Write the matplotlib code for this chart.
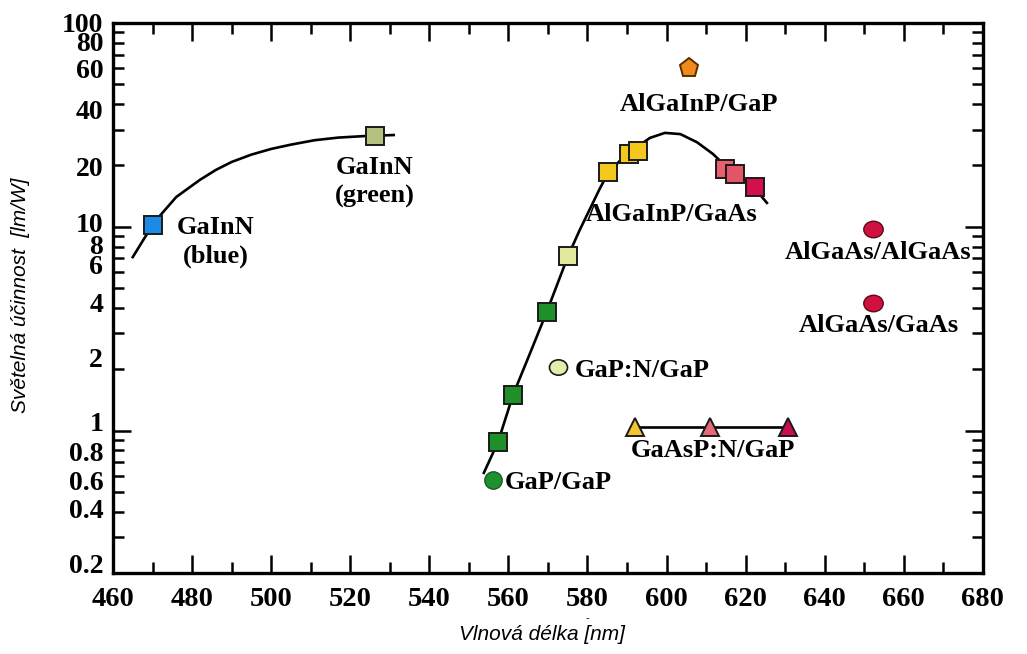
import numpy as np
import matplotlib
matplotlib.use("Agg")
import matplotlib.pyplot as plt
from matplotlib.path import Path
from matplotlib.ticker import FixedLocator, FuncFormatter, NullFormatter
from matplotlib.transforms import ScaledTranslation

# ---- data: wavelength [nm] and luminous efficacy [lm/W] ----
# GaInN fit curve and devices
gainn_curve_nm = [465, 470, 472, 476, 482, 486, 490, 495, 500, 505, 511, 517, 524, 531]
gainn_curve_eff = [7.1, 10.2, 11.4, 14.0, 17.0, 19.0, 20.8, 22.6, 24.1, 25.3,
                   26.6, 27.4, 27.9, 28.2]
gainn_nm = [470.1, 526.2]
gainn_eff = [10.2, 27.9]
gainn_colors = ["#1a8ce8", "#b5c27f"]

# AlGaInP/GaAs + GaP fit curve
algainp_curve_nm = [553.8, 557.4, 561.2, 565.5, 569.7, 575.1, 578, 580.6, 583.2,
                    585.2, 588, 590.5, 593, 595.8, 599.6, 603.5, 607.7, 611.7,
                    614.8, 618, 622.3, 625.4]
algainp_curve_eff = [0.62, 0.88, 1.50, 2.40, 3.82, 7.19, 9.6, 12.2, 15.5,
                     18.3, 20.9, 22.9, 25.0, 27.3, 28.9, 28.5, 26.0, 22.8,
                     20.0, 18.0, 15.4, 13.1]

# square devices along the curve
sq_nm = [557.4, 561.2, 569.7, 575.1, 585.2, 590.5, 592.8, 614.8, 617.3, 622.3]
sq_eff = [0.88, 1.50, 3.82, 7.19, 18.6, 22.8, 23.6, 19.2, 18.2, 15.7]
sq_colors = ["#1f8f2a", "#1f8f2a", "#1f8f2a", "#e0e89c", "#f4c81c", "#f4c81c",
             "#f4c81c", "#e8606e", "#e25566", "#d4104c"]

# single devices
gap_nm, gap_eff = 556.1, 0.572
gapn_nm, gapn_eff = 572.5, 2.05
algainp_gap_nm, algainp_gap_eff = 605.7, 60.0
algaas_nm = [652.2, 652.2]
algaas_eff = [9.76, 4.23]

# GaAsP:N/GaP
gaasp_nm = [592.0, 611.0, 630.7]
gaasp_eff = [1.04, 1.04, 1.04]
gaasp_colors = ["#f2c433", "#e86878", "#c8104a"]

# labels (text, wavelength, efficacy, horizontal alignment)
labels = [
    ("GaInN\n(blue)", 486.0, 8.45, "center"),
    ("GaInN\n(green)", 526.2, 16.6, "center"),
    ("AlGaInP/GaP", 608.3, 39.9, "center"),
    ("AlGaInP/GaAs", 601.4, 11.5, "center"),
    ("AlGaAs/AlGaAs", 653.4, 7.46, "center"),
    ("AlGaAs/GaAs", 653.7, 3.28, "center"),
    ("GaP:N/GaP", 576.7, 1.96, "left"),
    ("GaAsP:N/GaP", 611.7, 0.795, "center"),
    ("GaP/GaP", 559.1, 0.555, "left"),
]

x_major = [460, 480, 500, 520, 540, 560, 580, 600, 620, 640, 660, 680]
x_minor = [470, 490, 510, 530, 550, 570, 590, 610, 630, 650, 670]
y_major = [1, 10, 100]
y_minor = [0.2, 0.3, 0.4, 0.5, 0.6, 0.7, 0.8, 0.9,
           2, 3, 4, 5, 6, 7, 8, 9,
           20, 30, 40, 50, 60, 70, 80, 90]
y_labelled = [0.2, 0.4, 0.6, 0.8, 1, 2, 4, 6, 8, 10, 20, 40, 60, 80, 100]
# small vertical nudges (points) for the y tick labels
y_label_shift = [5, 0, -5.5, -3, 4, 6, 2, 3.5, -0.5, 1, -3, -6, -2.5, -1.5, -1.5]

# ---- drawing ----
serif = ["Liberation Serif", "DejaVu Serif"]
sans = ["Liberation Sans", "DejaVu Sans"]

fig = plt.figure(figsize=(10.27, 6.54), dpi=100)
ax = fig.add_axes([0.110, 0.1239, 0.847, 0.8409])
ax.set_yscale("log")
ax.set_xlim(460, 680)
ax.set_ylim(0.2, 100)

lw_curve = 1.9
ax.plot(gainn_curve_nm, gainn_curve_eff, color="black", lw=lw_curve, zorder=2,
        solid_joinstyle="round")
ax.plot(algainp_curve_nm, algainp_curve_eff, color="black", lw=lw_curve, zorder=2,
        solid_joinstyle="round")
ax.plot(gaasp_nm, gaasp_eff, color="black", lw=lw_curve, zorder=2)

edge = "#1a1a1a"
for x, y, c in zip(gainn_nm, gainn_eff, gainn_colors):
    ax.plot(x, y, marker="s", ms=13, mfc=c, mec=edge, mew=1.4, zorder=3)
for x, y, c in zip(sq_nm, sq_eff, sq_colors):
    ax.plot(x, y, marker="s", ms=13, mfc=c, mec=edge, mew=1.4, zorder=3)

ellipse = Path(Path.unit_circle().vertices * np.array([1.0, 0.85]),
               Path.unit_circle().codes)
ax.plot(gap_nm, gap_eff, marker="o", ms=12.5, mfc="#1f9030", mec="#145c1e",
        mew=1.0, zorder=3)
ax.plot(gapn_nm, gapn_eff, marker=ellipse, ms=13, mfc="#e4ecac", mec=edge,
        mew=1.2, zorder=3)
for x, y in zip(algaas_nm, algaas_eff):
    ax.plot(x, y, marker=ellipse, ms=14, mfc="#d0103e", mec="#5a0a18",
            mew=1.0, zorder=3)
ax.plot(algainp_gap_nm, algainp_gap_eff, marker="p", ms=14, mfc="#f08a1c",
        mec="#5a2c00", mew=1.4, zorder=3)
for x, y, c in zip(gaasp_nm, gaasp_eff, gaasp_colors):
    ax.plot(x, y, marker="^", ms=13, mfc=c, mec=edge, mew=1.4, zorder=3)

for txt, x, y, ha in labels:
    ax.text(x, y, txt, ha=ha, va="center", family=serif, weight="bold",
            fontsize=19, linespacing=1.3, zorder=4)

# axes frame and ticks
for sp in ax.spines.values():
    sp.set_linewidth(2.4)

ax.xaxis.set_major_locator(FixedLocator(x_major))
ax.xaxis.set_minor_locator(FixedLocator(x_minor))
ax.yaxis.set_major_locator(FixedLocator(y_major))
ax.yaxis.set_minor_locator(FixedLocator(y_minor))
ax.yaxis.set_major_formatter(NullFormatter())
ax.yaxis.set_minor_formatter(NullFormatter())
ax.xaxis.set_major_formatter(FuncFormatter(lambda v, p: f"{v:g}"))

ax.tick_params(which="both", direction="in", top=True, right=True, width=1.8)
ax.tick_params(which="major", length=13)
ax.tick_params(which="minor", length=8)
ax.tick_params(axis="x", which="both", pad=10)
for lbl in ax.get_xticklabels():
    lbl.set_family(serif)
    lbl.set_weight("bold")
    lbl.set_fontsize(20.5)

# y tick labels
ytrans = ax.get_yaxis_transform()
for v, dy in zip(y_labelled, y_label_shift):
    tr = ytrans + ScaledTranslation(-7 / 72, dy / 72, fig.dpi_scale_trans)
    ax.text(0, v, f"{v:g}", transform=tr, ha="right", va="center",
            family=serif, weight="bold", fontsize=20, clip_on=False)

fig.text(0.020, 0.549, "Světelná účinnost  [lm/W]", rotation=90, ha="center",
         va="center", family=sans, style="italic", fontsize=15)
fig.text(0.528, 0.030, "Vlnová délka [nm]", ha="center", va="center",
         family=sans, style="italic", fontsize=15)
fig.text(587 / 1027, 1 - 618 / 654, "-", ha="center", va="center",
         family=sans, fontsize=8)

fig.savefig("out.png", dpi=100)
